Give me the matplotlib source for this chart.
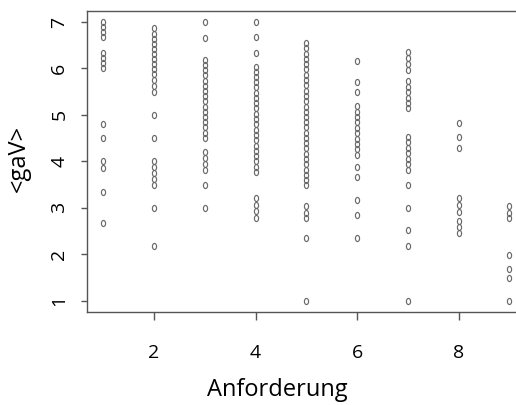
import numpy as np
import matplotlib
matplotlib.use('Agg')
import matplotlib.pyplot as plt
from matplotlib.path import Path
from matplotlib.transforms import Affine2D

plt.rcParams['font.family'] = ['Open Sans', 'DejaVu Sans']

# <gaV> Werte je Anforderung (1..9)
gav_1 = [7.0, 6.89, 6.78, 6.67, 6.33, 6.22, 6.11, 6.0, 4.8, 4.5, 4.0, 3.85, 3.35, 2.67]
gav_2 = [6.86, 6.75, 6.64, 6.53, 6.42, 6.31, 6.2, 6.09, 5.98, 5.87, 5.75, 5.62, 5.5,
         5.0, 4.5, 4.0, 3.88, 3.76, 3.63, 3.5, 3.0, 2.17]
gav_3 = [7.0, 6.65, 6.18, 6.07, 5.96, 5.85, 5.73, 5.62, 5.51, 5.4, 5.29, 5.17, 5.06,
         4.95, 4.84, 4.73, 4.61, 4.5, 4.21, 4.08, 3.95, 3.82, 3.5, 3.0]
gav_4 = [7.0, 6.67, 6.34, 6.04, 5.93, 5.82, 5.7, 5.59, 5.48, 5.36, 5.25, 5.14, 5.02,
         4.91, 4.8, 4.68, 4.57, 4.46, 4.34, 4.23, 4.12, 4.0, 3.89, 3.78,
         3.22, 3.07, 2.93, 2.78]
gav_5 = [6.54, 6.43, 6.32, 6.2, 6.09, 5.98, 5.86, 5.75, 5.64, 5.52, 5.41, 5.3, 5.18,
         5.07, 4.96, 4.84, 4.73, 4.62, 4.5, 4.39, 4.28, 4.16, 4.05, 3.94, 3.82,
         3.71, 3.6, 3.49, 3.03, 2.9, 2.78, 2.35, 1.0]
gav_6 = [6.16, 5.7, 5.5, 5.19, 5.07, 4.96, 4.84, 4.72, 4.61, 4.49, 4.37, 4.26, 4.14,
         3.89, 3.67, 3.17, 2.85, 2.35]
gav_7 = [6.36, 6.23, 6.1, 5.97, 5.72, 5.6, 5.49, 5.37, 5.26, 5.14, 4.53, 4.41, 4.29,
         4.17, 4.06, 3.94, 3.82, 3.49, 2.99, 2.53, 2.17, 1.0]
gav_8 = [4.82, 4.53, 4.28, 3.21, 3.06, 2.92, 2.71, 2.58, 2.46]
gav_9 = [3.03, 2.9, 2.78, 1.99, 1.68, 1.5, 1.0]

spalten = [gav_1, gav_2, gav_3, gav_4, gav_5, gav_6, gav_7, gav_8, gav_9]
x_ticks = [2, 4, 6, 8]
y_ticks = [1, 2, 3, 4, 5, 6, 7]

anforderung = np.concatenate([[i + 1] * len(s) for i, s in enumerate(spalten)])
gav = np.concatenate(spalten)

# leicht gestauchter Kreis wie im Original
oval = Path.unit_circle().transformed(Affine2D().scale(0.68, 1.0))

fig = plt.figure(figsize=(5.16, 4.05), dpi=100)
ax = fig.add_axes([87 / 516, 1 - 312 / 405, 438.7 / 516, 301.2 / 405])

ax.plot(anforderung, gav, linestyle='none', marker=oval, markersize=4.4,
        markerfacecolor='none', markeredgecolor='#6a6a6a', markeredgewidth=0.85)

ax.set_xlim(0.68, 9.32)
ax.set_ylim(0.76, 7.24)
ax.set_xticks(x_ticks)
ax.set_yticks(y_ticks)

for sp in ax.spines.values():
    sp.set_color('#555555')
    sp.set_linewidth(1.0)

ax.tick_params(axis='x', length=6, width=1, color='#555555', pad=17, labelsize=14)
ax.tick_params(axis='y', length=4.5, width=1, color='#555555', pad=9, labelsize=14,
               labelrotation=90)
for lbl in ax.get_yticklabels():
    lbl.set_va('center')

fig.text(19 / 516, 1 - 158 / 405, '<gaV>', rotation=90, ha='center', va='center', fontsize=17)
fig.text(277 / 516, 1 - 390 / 405, 'Anforderung', ha='center', va='center', fontsize=17)

fig.savefig('out.png', dpi=100)
